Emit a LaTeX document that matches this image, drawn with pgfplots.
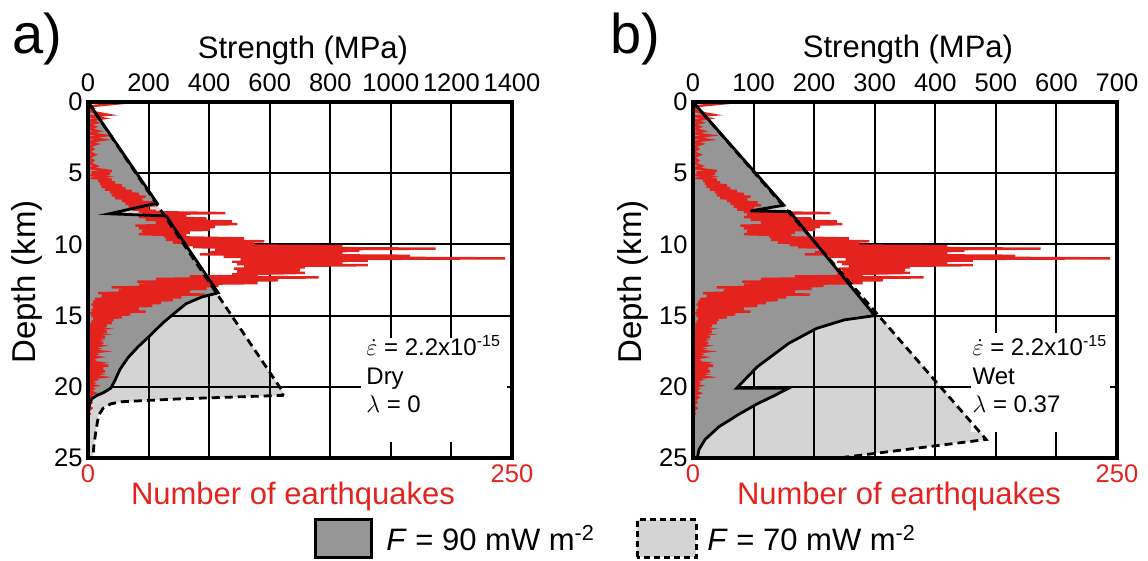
\documentclass[border=0pt]{standalone}
\usepackage{fontspec}
\setmainfont{Liberation Sans}
\usepackage{pgfplots}
\usepackage{pgfplotstable}
\pgfplotsset{compat=1.18}
\definecolor{dgrey}{RGB}{150,150,150}
\definecolor{lgrey}{RGB}{212,212,212}
\definecolor{qred}{RGB}{228,35,30}

\pgfplotstableread{
n d
25 0.02
1 0.3
3 0.45
0 0.6
5 0.75
12 0.9
1 1.0
9 1.15
1 1.3
5 1.45
0 1.6
4 1.75
1 1.9
6 2.05
0 2.2
10 2.35
1 2.5
9 2.65
0 2.8
5 2.95
1 3.1
3 3.3
0 3.5
4 3.7
0 3.9
3 4.1
1 4.3
5 4.5
1 4.65
14 4.85
2 4.95
13 5.05
3 5.15
10 5.25
4 5.35
14 5.45
6 5.55
16 5.65
7 5.75
20 5.85
8 5.95
22 6.05
10 6.15
26 6.25
13 6.35
30 6.45
14 6.55
34 6.65
16 6.75
32 6.85
20 6.95
38 7.05
22 7.15
40 7.25
24 7.35
36 7.45
26 7.55
40 7.65
30 7.72
81 7.8
32 7.88
58 7.98
30 8.08
70 8.18
34 8.28
85 8.38
40 8.48
88 8.58
28 8.68
75 8.78
30 8.88
72 8.98
32 9.08
60 9.18
30 9.28
58 9.38
45 9.48
92 9.58
46 9.68
104 9.78
50 9.88
98 9.96
57 10.05
150 10.12
62 10.2
205 10.3
75 10.38
160 10.46
72 10.54
150 10.62
66 10.7
190 10.8
80 10.88
246 10.98
90 11.06
165 11.14
85 11.22
150 11.3
88 11.38
165 11.46
92 11.54
128 11.62
86 11.7
125 11.8
88 11.9
128 12.0
85 12.1
100 12.2
60 12.25
136 12.32
40 12.42
112 12.52
29 12.62
100 12.72
30 12.82
77 12.92
14 13.02
70 13.12
18 13.22
60 13.32
6 13.42
69 13.52
8 13.62
55 13.72
4 13.82
50 13.92
3 14.02
43 14.12
2 14.22
38 14.32
3 14.42
30 14.52
2 14.62
34 14.72
1 14.82
25 14.92
2 15.02
20 15.12
3 15.22
15 15.32
2 15.42
14 15.52
1 15.62
11 15.72
2 15.82
9 15.92
1 16.02
11 16.12
0 16.22
8 16.32
1 16.42
10 16.52
0 16.62
6 16.72
1 16.82
9 16.92
0 17.02
7 17.12
1 17.22
5 17.32
0 17.42
8 17.52
1 17.62
4 17.72
0 17.82
6 17.92
1 18.02
3 18.12
0 18.22
7 18.32
1 18.42
12 18.52
0 18.62
9 18.72
1 18.82
10 18.92
0 19.02
6 19.12
1 19.22
8 19.32
0 19.42
4 19.52
1 19.62
3 19.72
0 19.82
4 19.92
0 20.02
3 20.15
1 20.3
4 20.45
0 20.6
3 20.75
1 20.9
2 21.1
0 21.3
2 21.5
0 21.7
1 21.9
0 22.0
}\quakes

\pgfplotsset{
  panel/.style={scale only axis, width=212pt, height=178pt, anchor=south west,
    ymin=0, ymax=25, y dir=reverse, major tick length=0pt, tick style={draw=none},
    ytick={0,5,10,15,20,25},
    /pgf/number format/assume math mode=true, /pgf/number format/1000 sep={},
    tick label style={font=\fontsize{12.75}{14}\selectfont}},
  hidden/.style={axis line style={draw=none}},
}

\begin{document}
\begin{tikzpicture}
\useasboundingbox (0,0) rectangle (574pt,280.5pt);

% ================= PANEL A =================
\begin{axis}[panel, hidden, at={(44pt,51.5pt)}, xmin=0, xmax=1400, xtick={0,200,...,1400},
  xticklabel pos=upper,
  yticklabel style={inner xsep=2.5pt}, xticklabel style={yshift=1.5pt}]
\addplot[fill=lgrey, draw=none] coordinates {(0,0) (645,20.4) (643,20.6) (300,20.85) (110,21.05) (75,21.2) (50,21.5) (35,22.0) (27,23.0) (20,24.0) (16,25) (0,25)};
\end{axis}
\begin{axis}[panel, hidden, at={(44pt,51.5pt)}, xmin=0, xmax=1400, xtick={0,200,...,1400},
  xticklabels={}, yticklabels={}, grid=major, grid style={black, line width=1pt}]
\addplot[fill=dgrey, draw=none] coordinates {(0,0) (228,7.1) (70,7.85) (258,8.0) (430,13.4) (375,13.7) (325,14.15) (287,14.8) (248,15.5) (205,16.4) (165,17.2) (132,17.95) (105,18.8) (88,19.6) (75,20.1) (52,20.4) (30,20.6) (15,20.8) (8,21.0) (3,21.5) (0,22.0)};
\end{axis}
\begin{axis}[panel, hidden, at={(44pt,51.5pt)}, xmin=0, xmax=250, xtick={0,250}, ytick=\empty,
  xticklabel style={text=qred}]
\addplot[qred, line width=1.2pt] table[x=n, y=d] {\quakes};
\end{axis}
\begin{axis}[panel, at={(44pt,51.5pt)}, xmin=0, xmax=1400, xtick=\empty, ytick=\empty,
  axis line style={draw=black, line width=1.6pt}, axis on top]
\fill[white] (axis cs:901,16.6) rectangle (axis cs:1384,23.9);
\addplot[black, line width=1.4pt, dash pattern=on 4pt off 2.5pt] coordinates {(0,0) (645,20.4) (643,20.6) (300,20.85) (110,21.05) (75,21.2) (50,21.5) (35,22.0) (27,23.0) (20,24.0) (16,25)};
\addplot[black, line width=1.4pt] coordinates {(0,0) (228,7.1) (70,7.85) (258,8.0) (430,13.4) (375,13.7) (325,14.15) (287,14.8) (248,15.5) (205,16.4) (165,17.2) (132,17.95) (105,18.8) (88,19.6) (75,20.1) (52,20.4) (30,20.6) (15,20.8) (8,21.0) (3,21.5) (0,22.0)};
\node[anchor=base west, inner sep=0, font=\fontsize{12}{14}\selectfont] at (axis cs:918,17.77) {$\dot{\varepsilon}$ = 2.2x10\textsuperscript{-15}};
\node[anchor=base west, inner sep=0, font=\fontsize{12}{14}\selectfont] at (axis cs:918,19.87) {Dry};
\node[anchor=base west, inner sep=0, font=\fontsize{12}{14}\selectfont] at (axis cs:918,21.84) {$\lambda$ = 0};
\end{axis}

% ================= PANEL B =================
\begin{axis}[panel, hidden, at={(346.5pt,51.5pt)}, xmin=0, xmax=700, xtick={0,100,...,700},
  xticklabel pos=upper,
  yticklabel style={inner xsep=2.5pt}, xticklabel style={yshift=1.5pt}]
\addplot[fill=lgrey, draw=none] coordinates {(0,0) (484,23.7) (240,25) (0,25)};
\end{axis}
\begin{axis}[panel, hidden, at={(346.5pt,51.5pt)}, xmin=0, xmax=700, xtick={0,100,...,700},
  xticklabels={}, yticklabels={}, grid=major, grid style={black, line width=1pt}]
\addplot[fill=dgrey, draw=none] coordinates {(0,0) (150,7.25) (95,7.65) (160,7.7) (300,15.0) (250,15.3) (204,15.9) (158,16.95) (106,18.6) (72,20.1) (158,20.1) (135,20.6) (106,21.2) (77,21.9) (43,22.8) (20,23.7) (10,24.4) (7,25) (0,25)};
\end{axis}
\begin{axis}[panel, hidden, at={(346.5pt,51.5pt)}, xmin=0, xmax=250, xtick={0,250}, ytick=\empty,
  xticklabel style={text=qred}]
\addplot[qred, line width=1.2pt] table[x=n, y=d] {\quakes};
\end{axis}
\begin{axis}[panel, at={(346.5pt,51.5pt)}, xmin=0, xmax=700, xtick=\empty, ytick=\empty,
  axis line style={draw=black, line width=1.6pt}, axis on top]
\fill[white] (axis cs:459,16.2) rectangle (axis cs:688,23.2);
\addplot[black, line width=1.4pt, dash pattern=on 4pt off 2.5pt] coordinates {(0,0) (484,23.7) (240,25)};
\addplot[black, line width=1.4pt] coordinates {(0,0) (150,7.25) (95,7.65) (160,7.7) (300,15.0) (250,15.3) (204,15.9) (158,16.95) (106,18.6) (72,20.1) (158,20.1) (135,20.6) (106,21.2) (77,21.9) (43,22.8) (20,23.7) (10,24.4) (7,25)};
\node[anchor=base west, inner sep=0, font=\fontsize{12}{14}\selectfont] at (axis cs:461,17.77) {$\dot{\varepsilon}$ = 2.2x10\textsuperscript{-15}};
\node[anchor=base west, inner sep=0, font=\fontsize{12}{14}\selectfont] at (axis cs:461,19.87) {Wet};
\node[anchor=base west, inner sep=0, font=\fontsize{12}{14}\selectfont] at (axis cs:461,21.84) {$\lambda$ = 0.37};
\end{axis}

% ================= LABELS =================
\node[anchor=base west, inner sep=0, font=\fontsize{28}{30}\selectfont] at (6pt,253.5pt) {a)};
\node[anchor=base west, inner sep=0, font=\fontsize{28}{30}\selectfont] at (305pt,253.5pt) {b)};
\node[anchor=base, inner sep=0, font=\fontsize{15.5}{18}\selectfont] at (151.5pt,251pt) {Strength (MPa)};
\node[anchor=base, inner sep=0, font=\fontsize{15.5}{18}\selectfont] at (454pt,251.5pt) {Strength (MPa)};
\node[anchor=base, inner sep=0, rotate=90, font=\fontsize{16.5}{19}\selectfont] at (17.5pt,139.5pt) {Depth (km)};
\node[anchor=base, inner sep=0, rotate=90, font=\fontsize{16.5}{19}\selectfont] at (320.5pt,139.5pt) {Depth (km)};
\node[anchor=base, inner sep=0, text=qred, font=\fontsize{15.5}{18}\selectfont] at (146.5pt,28pt) {Number of earthquakes};
\node[anchor=base, inner sep=0, text=qred, font=\fontsize{15.5}{18}\selectfont] at (449.5pt,28pt) {Number of earthquakes};

% ================= LEGEND =================
\draw[line width=1.5pt, fill=dgrey] (157.5pt,1.8pt) rectangle (185.5pt,20.5pt);
\node[anchor=base west, inner sep=0, font=\fontsize{15.5}{18}\selectfont] at (193pt,5pt) {\textit{F} = 90 mW m\textsuperscript{-2}};
\draw[line width=1.5pt, dash pattern=on 3pt off 2pt, fill=lgrey] (318.5pt,1.8pt) rectangle (348pt,20.5pt);
\node[anchor=base west, inner sep=0, font=\fontsize{15.5}{18}\selectfont] at (353.5pt,5pt) {\textit{F} = 70 mW m\textsuperscript{-2}};
\end{tikzpicture}
\end{document}
